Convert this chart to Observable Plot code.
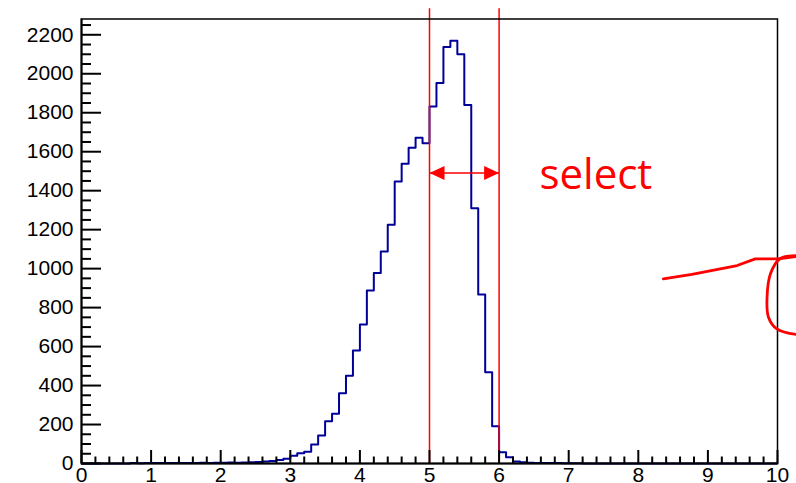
<!DOCTYPE html>
<html><head><meta charset="utf-8">
<script src="https://cdn.jsdelivr.net/npm/d3@7"></script>
<script src="https://cdn.jsdelivr.net/npm/@observablehq/plot@0.6"></script>
<style>html,body{margin:0;padding:0;background:#fff}svg{display:block}</style>
</head><body><div id="chart"></div>
<script>
// ---- data ----
const binWidth = 0.1;
const counts = [
  0,0,0,0,0,0,0,2,1,2,
  2,3,2,3,2,3,3,4,3,4,
  4,5,4,5,6,8,10,13,18,24,
  40,52,60,97,144,217,255,361,450,580,
  713,888,977,1088,1225,1447,1538,1620,1671,1643,
  1832,1953,2137,2170,2100,1840,1310,867,468,191,
  58,32,10,6,4,3,3,2,2,1,
  1,1,0,0,0,0,0,0,0,0,
  0,0,0,0,0,0,0,0,0,0,
  0,0,0,0,0,0,0,0,0,0
];
const xTickValues = [0,1,2,3,4,5,6,7,8,9,10];
const xTickLabels = ["0","1","2","3","4","5","6","7","8","9","10"];
const yTickValues = [0,200,400,600,800,1000,1200,1400,1600,1800,2000,2200];
const yTickLabels = ["0","200","400","600","800","1000","1200","1400","1600","1800","2000","2200"];
const selectEdges = [5, 6];
const selectText = ["select"];
// hand-drawn annotation strokes (in data coordinates)
const pen1X = [8.36, 8.77, 9.42, 9.68, 10.01, 10.27];
const pen1Y = [948, 970, 1016, 1050, 1050, 1062];
const pen2X = [10.27, 10.04, 9.90, 9.85, 9.87, 9.99, 10.27];
const pen2Y = [1067, 1052, 975, 853, 751, 691, 662];

// ---- derived tables ----
const hist = counts.map((c, i) => ({x: i * binWidth, y: c}));
hist.push({x: counts.length * binWidth, y: counts[counts.length - 1]});
const xMinor = d3.range(0, 50).map(i => i * 0.2).filter(v => Math.abs(v - Math.round(v)) > 1e-6);
const yMinor = d3.range(0, 46).map(i => i * 50).filter(v => v % 200 !== 0);
const pen1 = pen1X.map((x, i) => ({x, y: pen1Y[i]}));
const pen2 = pen2X.map((x, i) => ({x, y: pen2Y[i]}));

const yMax = 2281;
const arrowY = 1491;
const labelX = 6.58, labelY = 1480;
const topY = 2334;
// tick lengths expressed in data units
const xMajLen = 13 / (444.5 / yMax), xMinLen = 6.5 / (444.5 / yMax);
const yMajLen = 20 / 69.6, yMinLen = 10 / 69.6;

function triMarker(color) {
  const m = d3.create("svg:marker")
    .attr("viewBox", "-16 -8 17 16")
    .attr("markerWidth", 17).attr("markerHeight", 16)
    .attr("markerUnits", "userSpaceOnUse")
    .attr("refX", 0).attr("refY", 0)
    .attr("orient", "auto-start-reverse");
  m.append("path").attr("fill", color).attr("stroke", "none").attr("d", "M-15,-7L0,0L-15,7Z");
  return m.node();
}

const FONT = "Liberation Sans, Arial, Helvetica, sans-serif";
const chart = Plot.plot({
  width: 796, height: 483,
  marginLeft: 81, marginRight: 19, marginTop: 18.5, marginBottom: 20,
  x: {domain: [0, 10], axis: null},
  y: {domain: [0, yMax], axis: null},
  style: {fontFamily: FONT, background: "#fff", overflow: "visible"},
  marks: [
    Plot.line(hist, {x: "x", y: "y", curve: "step-after", stroke: "#000099", strokeWidth: 2}),
    Plot.ruleX(selectEdges, {y1: 0, y2: topY, stroke: "#ff0000", strokeWidth: 1.5, clip: false}),
    Plot.frame({stroke: "#000", strokeWidth: 1.5}),
    Plot.ruleX([0], {stroke: "#000", strokeWidth: 2}),
    Plot.ruleY([0], {stroke: "#000", strokeWidth: 2}),
    Plot.ruleX(xTickValues, {y1: 0, y2: xMajLen, stroke: "#000", strokeWidth: 2}),
    Plot.ruleX(xMinor, {y1: 0, y2: xMinLen, stroke: "#000", strokeWidth: 2}),
    Plot.ruleY(yTickValues, {x1: 0, x2: yMajLen, stroke: "#000", strokeWidth: 2}),
    Plot.ruleY(yMinor, {x1: 0, x2: yMinLen, stroke: "#000", strokeWidth: 2}),
    Plot.text(xTickValues, {x: d => d, y: 0, text: (d, i) => xTickLabels[i], lineAnchor: "top", dy: 4, fontSize: 21, fill: "#000", fontFamily: FONT}),
    Plot.text(yTickValues, {x: 0, y: d => d, text: (d, i) => yTickLabels[i], textAnchor: "end", dx: -8, fontSize: 21, fill: "#000", fontFamily: FONT}),
    Plot.link([0], {x1: selectEdges[0], x2: selectEdges[1], y1: arrowY, y2: arrowY, stroke: "#ff0000", strokeWidth: 1.5, markerStart: triMarker, markerEnd: triMarker}),
    Plot.text(selectText, {x: labelX, y: labelY, text: d => d, textAnchor: "start", fontSize: 42, fill: "#ff0000", fontFamily: "Open Sans, sans-serif"}),
    Plot.line(pen1, {x: "x", y: "y", curve: "linear", stroke: "#ff0000", strokeWidth: 2.8, strokeLinejoin: "round", clip: false}),
    Plot.line(pen2, {x: "x", y: "y", curve: "catmull-rom", stroke: "#ff0000", strokeWidth: 2.8, clip: false})
  ]
});
document.getElementById("chart").appendChild(chart);
</script>
</body></html>
